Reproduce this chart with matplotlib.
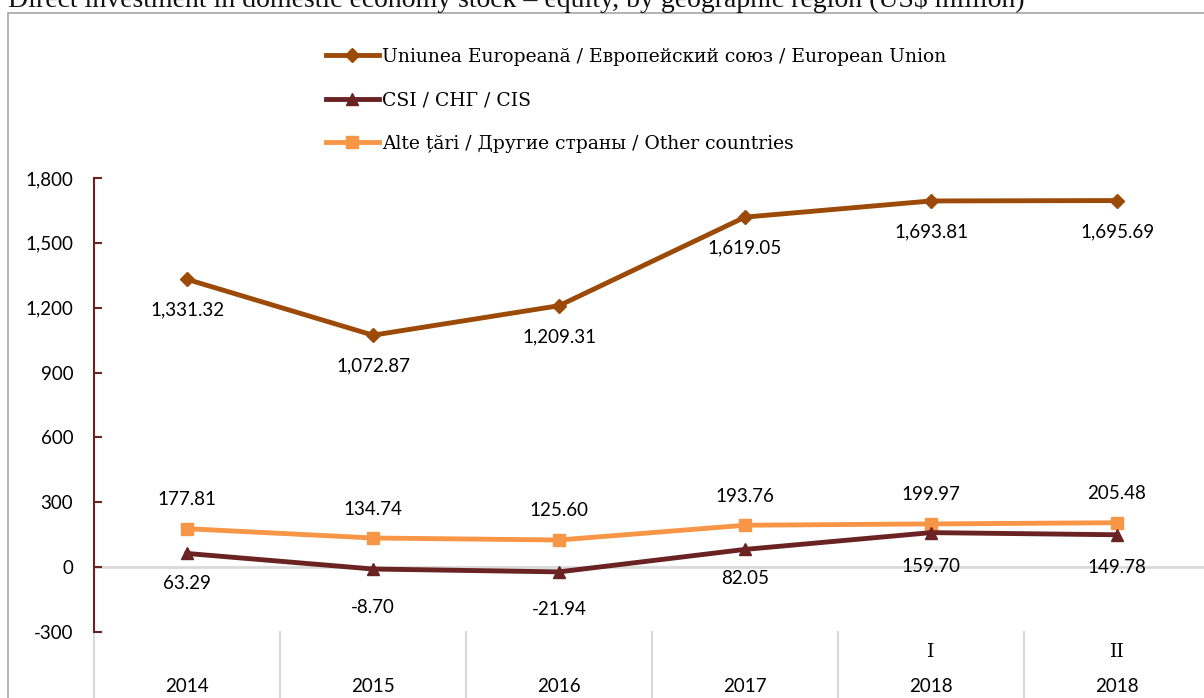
import matplotlib
matplotlib.use("Agg")
import matplotlib.pyplot as plt
from matplotlib.patches import Rectangle
import matplotlib.transforms as mtransforms

# data
years = ["2014", "2015", "2016", "2017", "2018", "2018"]
periods = ["", "", "", "", "I", "II"]
eu = [1331.32, 1072.87, 1209.31, 1619.05, 1693.81, 1695.69]
cis = [63.29, -8.70, -21.94, 82.05, 159.70, 149.78]
other = [177.81, 134.74, 125.60, 193.76, 199.97, 205.48]
yticks = [-300, 0, 300, 600, 900, 1200, 1500, 1800]

title = "Direct investment in domestic economy stock \u2013 equity, by geographic region (US$ million)"
names = ["Uniunea Europeană / Европейский союз / European Union",
         "CSI / СНГ / CIS",
         "Alte țări / Другие страны / Other countries"]

c_eu = "#9C4A08"
c_cis = "#6A2222"
c_other = "#F79646"
sans = "Lato"
serif = "DejaVu Serif"

W, H = 1204, 698
fig = plt.figure(figsize=(W / 100, H / 100), dpi=100)

# outer frame and cut-off title
fig.patches.append(Rectangle((8 / W, -0.1), 1.2, 1 - 13 / H + 0.1, transform=fig.transFigure,
                             fill=False, edgecolor="#A6A6A6", linewidth=1.2))
fig.text(8 / W, 1 - 7 / H, title, family="Liberation Serif", fontsize=20,
         va="baseline", ha="left", color="#111111")

ax = fig.add_axes([94 / W, (H - 632) / H, (1210 - 94) / W, (632 - 178) / H])
x = list(range(len(years)))

ax.plot(x, eu, color=c_eu, lw=3.5, marker="D", ms=7, label=names[0], zorder=4)
ax.plot(x, cis, color=c_cis, lw=3.5, marker="^", ms=9, label=names[1], zorder=4)
ax.plot(x, other, color=c_other, lw=3.5, marker="s", ms=9, label=names[2], zorder=3)

ax.set_xlim(-0.5, len(years) - 0.5)
ax.set_ylim(-300, 1800)
ax.set_yticks(yticks)
ax.set_yticklabels([f"{v:,}" for v in yticks], family=sans, fontsize=13.5)
ax.set_xticks(x)
ax.set_xticklabels(years, family=sans, fontsize=13.5)
ax.tick_params(axis="x", length=0, pad=33)
ax.tick_params(axis="y", direction="in", length=6, width=1.5, color=c_cis, pad=15)
for s in ["top", "right", "bottom"]:
    ax.spines[s].set_visible(False)
ax.spines["left"].set_color(c_cis)
ax.spines["left"].set_linewidth(1.5)
ax.axhline(0, color="#D9D9D9", lw=2, zorder=1)

tr = mtransforms.blended_transform_factory(ax.transData, ax.transAxes)
# period labels above the years
for i, p in enumerate(periods):
    if p:
        ax.annotate(p, (i, 0), xycoords=tr, xytext=(0, -20), textcoords="offset pixels",
                    ha="center", va="center", family=serif, fontsize=13.5)

# category separators below the plot
for i in range(len(years)):
    ax.plot([i - 0.5, i - 0.5], [0, -0.3], transform=tr, color="#D9D9D9",
            lw=1.5, clip_on=False)

# data labels
cis_dy = [30, 38, 38, 29, 34, 33]
for i in x:
    ax.annotate(f"{eu[i]:,.2f}", (i, eu[i]), xytext=(0, -31), textcoords="offset pixels",
                ha="center", va="center", family=sans, fontsize=13.5)
    ax.annotate(f"{other[i]:,.2f}", (i, other[i]), xytext=(0, 29), textcoords="offset pixels",
                ha="center", va="center", family=sans, fontsize=13.5)
    ax.annotate(f"{cis[i]:,.2f}", (i, cis[i]), xytext=(0, -cis_dy[i]), textcoords="offset pixels",
                ha="center", va="center", family=sans, fontsize=13.5)

fig.legend(loc="upper left", bbox_to_anchor=(326 / W, 1 - 48 / H), frameon=False,
           prop={"family": serif, "size": 13.5}, handlelength=2.8, handletextpad=0.2,
           labelspacing=1.35, borderpad=0, borderaxespad=0)

fig.savefig("out.png", dpi=100)
